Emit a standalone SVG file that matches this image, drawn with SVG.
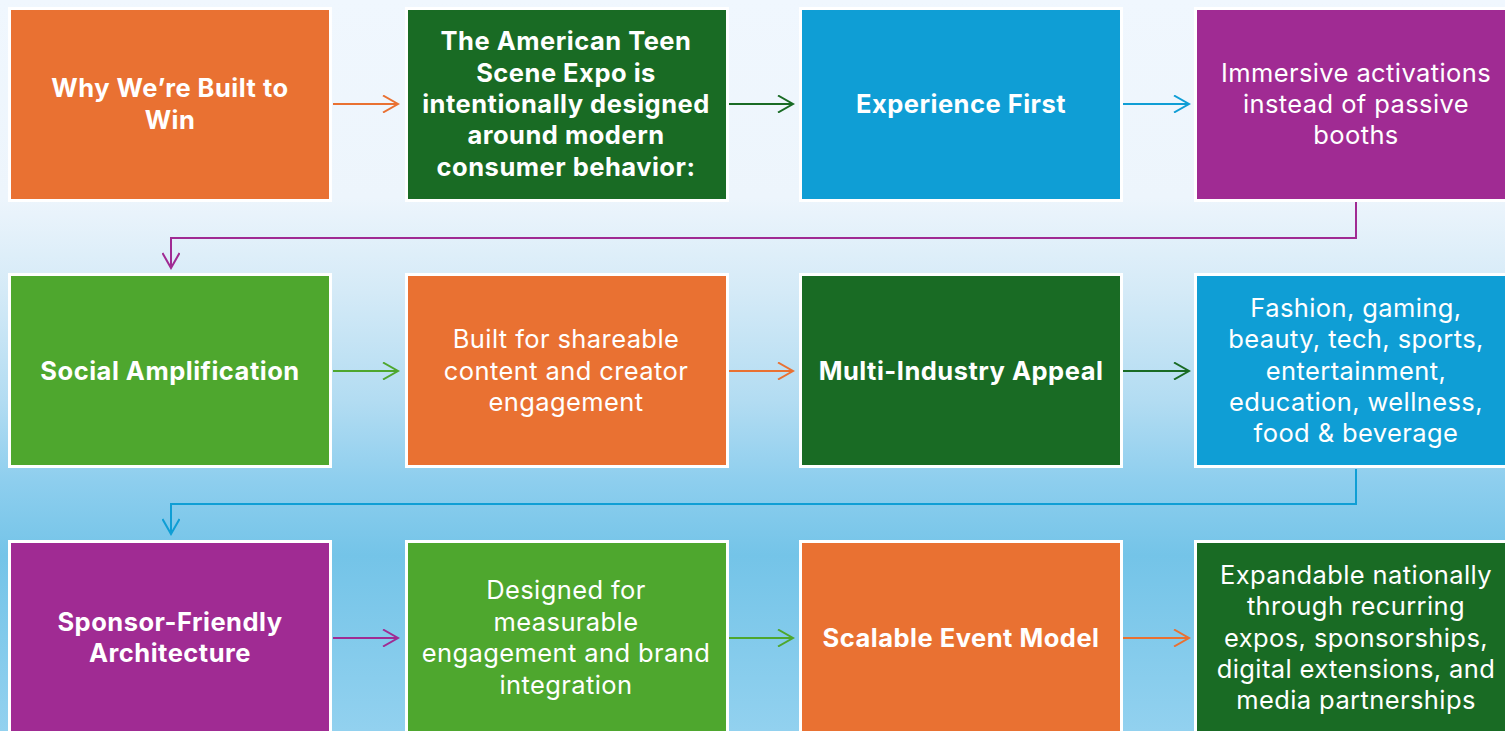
<svg xmlns="http://www.w3.org/2000/svg" width="1505" height="731" viewBox="0 0 1505 731">
  <defs>
    <linearGradient id="bg" x1="0" y1="0" x2="0" y2="1">
      <stop offset="0" stop-color="#F0F7FE"/>
      <stop offset="0.27" stop-color="#EDF5FC"/>
      <stop offset="0.40" stop-color="#D4EAF7"/>
      <stop offset="0.55" stop-color="#B2DCF2"/>
      <stop offset="0.66" stop-color="#8DCEEE"/>
      <stop offset="0.76" stop-color="#74C4E8"/>
      <stop offset="1" stop-color="#92D1EF"/>
    </linearGradient>
    <marker id="ah-orange" viewBox="-16 -9 18 18" markerWidth="18" markerHeight="18" refX="0" refY="0" orient="auto" markerUnits="userSpaceOnUse">
      <path d="M-15,-8.5 L0,0 L-15,8.5" fill="none" stroke="#E97132" stroke-width="2"/>
    </marker>
    <marker id="ah-dgreen" viewBox="-16 -9 18 18" markerWidth="18" markerHeight="18" refX="0" refY="0" orient="auto" markerUnits="userSpaceOnUse">
      <path d="M-15,-8.5 L0,0 L-15,8.5" fill="none" stroke="#196B24" stroke-width="2"/>
    </marker>
    <marker id="ah-blue" viewBox="-16 -9 18 18" markerWidth="18" markerHeight="18" refX="0" refY="0" orient="auto" markerUnits="userSpaceOnUse">
      <path d="M-15,-8.5 L0,0 L-15,8.5" fill="none" stroke="#0F9ED5" stroke-width="2"/>
    </marker>
    <marker id="ah-purple" viewBox="-16 -9 18 18" markerWidth="18" markerHeight="18" refX="0" refY="0" orient="auto" markerUnits="userSpaceOnUse">
      <path d="M-15,-8.5 L0,0 L-15,8.5" fill="none" stroke="#A02B93" stroke-width="2"/>
    </marker>
    <marker id="ah-lgreen" viewBox="-16 -9 18 18" markerWidth="18" markerHeight="18" refX="0" refY="0" orient="auto" markerUnits="userSpaceOnUse">
      <path d="M-15,-8.5 L0,0 L-15,8.5" fill="none" stroke="#4EA72E" stroke-width="2"/>
    </marker>
  </defs>
  <style>
    .box { stroke: #FFFFFF; stroke-width: 3; }
    .orange { fill: #E97132; }
    .dgreen { fill: #196B24; }
    .blue { fill: #0F9ED5; }
    .purple { fill: #A02B93; }
    .lgreen { fill: #4EA72E; }
    text { fill: #FFFFFF; font-family: Inter, "Open Sans", sans-serif; text-anchor: middle; }
    .b { font-weight: 700; font-size: 25.5px; letter-spacing: 0.5px; }
    .r { font-weight: 400; font-size: 25.5px; letter-spacing: 0.4px; }
    .conn path { fill: none; stroke-width: 2; }
  </style>

  <rect x="0" y="0" width="1505" height="731" fill="url(#bg)"/>

  <!-- connectors -->
  <g id="connectors" class="conn">
    <path d="M333,104 H398" stroke="#E97132" marker-end="url(#ah-orange)"/>
    <path d="M728,104 H793" stroke="#196B24" marker-end="url(#ah-dgreen)"/>
    <path d="M1123,104 H1189" stroke="#0F9ED5" marker-end="url(#ah-blue)"/>
    <path d="M1356,202 V238 H171 V268" stroke="#A02B93" marker-end="url(#ah-purple)"/>
    <path d="M333,371 H398" stroke="#4EA72E" marker-end="url(#ah-lgreen)"/>
    <path d="M728,371 H793" stroke="#E97132" marker-end="url(#ah-orange)"/>
    <path d="M1123,371 H1189" stroke="#196B24" marker-end="url(#ah-dgreen)"/>
    <path d="M1356,469 V504 H171 V534" stroke="#0F9ED5" marker-end="url(#ah-blue)"/>
    <path d="M333,638 H398" stroke="#A02B93" marker-end="url(#ah-purple)"/>
    <path d="M728,638 H793" stroke="#4EA72E" marker-end="url(#ah-lgreen)"/>
    <path d="M1123,638 H1189" stroke="#E97132" marker-end="url(#ah-orange)"/>
  </g>

  <!-- row 1 -->
  <g id="built-to-win">
    <rect class="box orange" x="9.5" y="8.5" width="321" height="192"/>
    <text class="b" x="170" y="97.3">Why We’re Built to</text>
    <text class="b" x="170" y="128.7">Win</text>
  </g>
  <g id="expo-design">
    <rect class="box dgreen" x="406.5" y="8.5" width="321" height="192"/>
    <text class="b" x="566" y="50.2">The American Teen</text>
    <text class="b" x="566" y="81.6">Scene Expo is</text>
    <text class="b" x="566" y="113">intentionally designed</text>
    <text class="b" x="566" y="144.4">around modern</text>
    <text class="b" x="566" y="175.8">consumer behavior:</text>
  </g>
  <g id="experience-first">
    <rect class="box blue" x="800.5" y="8.5" width="321" height="192"/>
    <text class="b" x="961" y="113">Experience First</text>
  </g>
  <g id="immersive">
    <rect class="box purple" x="1195.5" y="8.5" width="321" height="192"/>
    <text class="r" x="1356" y="81.6">Immersive activations</text>
    <text class="r" x="1356" y="113">instead of passive</text>
    <text class="r" x="1356" y="144.4">booths</text>
  </g>

  <!-- row 2 -->
  <g id="social-amplification">
    <rect class="box lgreen" x="9.5" y="274.5" width="321" height="192"/>
    <text class="b" x="170" y="379.5">Social Amplification</text>
  </g>
  <g id="shareable-content">
    <rect class="box orange" x="406.5" y="274.5" width="321" height="192"/>
    <text class="r" x="566" y="348.1">Built for shareable</text>
    <text class="r" x="566" y="379.5">content and creator</text>
    <text class="r" x="566" y="410.9">engagement</text>
  </g>
  <g id="multi-industry">
    <rect class="box dgreen" x="800.5" y="274.5" width="321" height="192"/>
    <text class="b" x="961" y="379.5">Multi-Industry Appeal</text>
  </g>
  <g id="industries">
    <rect class="box blue" x="1195.5" y="274.5" width="321" height="192"/>
    <text class="r" x="1356" y="316.7">Fashion, gaming,</text>
    <text class="r" x="1356" y="348.1">beauty, tech, sports,</text>
    <text class="r" x="1356" y="379.5">entertainment,</text>
    <text class="r" x="1356" y="410.9">education, wellness,</text>
    <text class="r" x="1356" y="442.3">food &amp; beverage</text>
  </g>

  <!-- row 3 -->
  <g id="sponsor-friendly">
    <rect class="box purple" x="9.5" y="541.5" width="321" height="192"/>
    <text class="b" x="170" y="630.8">Sponsor-Friendly</text>
    <text class="b" x="170" y="662.2">Architecture</text>
  </g>
  <g id="measurable">
    <rect class="box lgreen" x="406.5" y="541.5" width="321" height="192"/>
    <text class="r" x="566" y="599.4">Designed for</text>
    <text class="r" x="566" y="630.8">measurable</text>
    <text class="r" x="566" y="662.2">engagement and brand</text>
    <text class="r" x="566" y="693.6">integration</text>
  </g>
  <g id="scalable-model">
    <rect class="box orange" x="800.5" y="541.5" width="321" height="192"/>
    <text class="b" x="961" y="646.5">Scalable Event Model</text>
  </g>
  <g id="expandable">
    <rect class="box dgreen" x="1195.5" y="541.5" width="321" height="192"/>
    <text class="r" x="1356" y="583.7">Expandable nationally</text>
    <text class="r" x="1356" y="615.1">through recurring</text>
    <text class="r" x="1356" y="646.5">expos, sponsorships,</text>
    <text class="r" x="1356" y="677.9">digital extensions, and</text>
    <text class="r" x="1356" y="709.3">media partnerships</text>
  </g>
</svg>
